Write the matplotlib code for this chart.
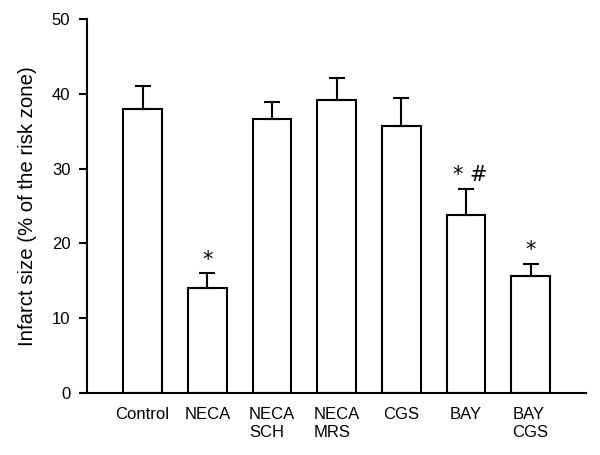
import matplotlib
matplotlib.use("Agg")
import matplotlib.pyplot as plt

plt.rcParams['font.family'] = ['Liberation Sans', 'DejaVu Sans']

categories = ["Control", "NECA", "NECA\nSCH", "NECA\nMRS", "CGS", "BAY", "BAY\nCGS"]
means = [38.0, 14.0, 36.6, 39.2, 35.7, 23.8, 15.7]
errors = [3.1, 2.0, 2.3, 2.9, 3.7, 3.5, 1.6]
marks = ["", "*", "", "", "", "* #", "*"]
yticks = [0, 10, 20, 30, 40, 50]

fig = plt.figure(figsize=(6, 4.55), dpi=100)
ax = fig.add_axes([0.145, 0.1363, 0.832, 0.822])

x = list(range(len(categories)))
ax.bar(x, means, width=0.6, color="white", edgecolor="black", linewidth=1.5,
       yerr=[[0]*len(errors), errors], capsize=6,
       error_kw=dict(elinewidth=1.5, capthick=1.5, ecolor="black"))

for xi, m, e, t in zip(x, means, errors, marks):
    if t:
        off = 0.06 if len(t) > 1 else 0.0
        ax.text(xi + off, m + e + 0.45, t, ha="center", va="bottom",
                fontsize=15, family=['DejaVu Sans'])

ax.set_xlim(-0.86, 6.86)
ax.set_ylim(0, 50)
ax.set_yticks(yticks)
ax.set_xticks(x)
ax.set_xticklabels(categories, fontsize=12, linespacing=1.25, va="top",
                   multialignment="left")
ax.tick_params(axis="x", length=0, pad=10)
ax.tick_params(axis="y", direction="out", length=6, width=1.5, labelsize=12, pad=6)
ax.set_ylabel("Infarct size (% of the risk zone)", fontsize=14.7)
ax.yaxis.set_label_coords(-0.100, 0.5)
for s in ["top", "right"]:
    ax.spines[s].set_visible(False)
for s in ["left", "bottom"]:
    ax.spines[s].set_linewidth(1.5)

fig.savefig("out.png", dpi=100)
